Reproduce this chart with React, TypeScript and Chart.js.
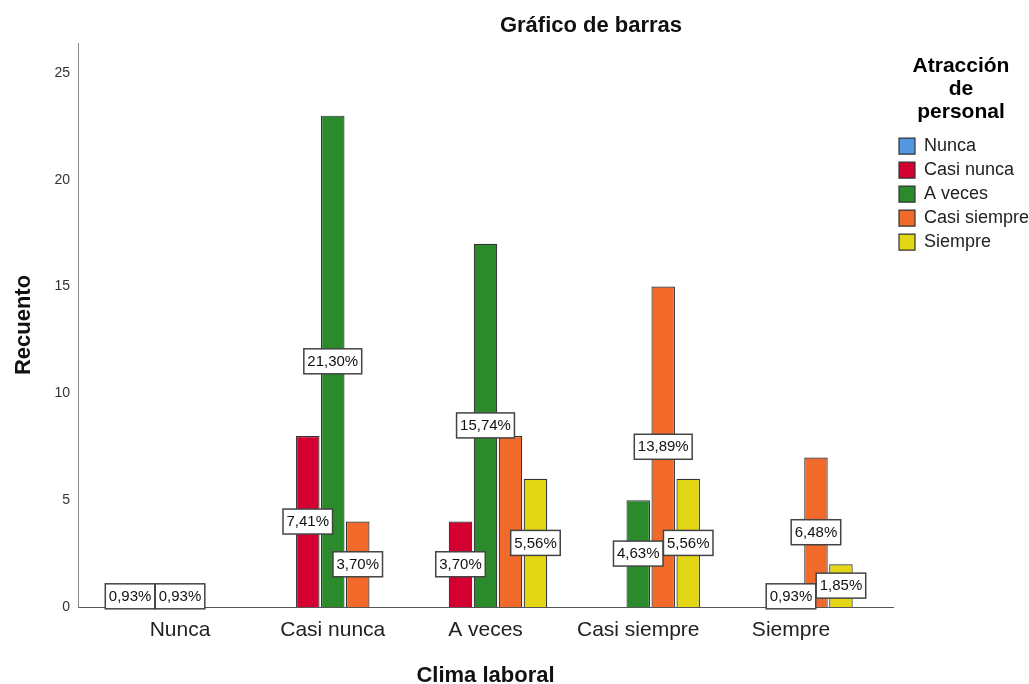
import React, { useEffect, useRef } from "react";
import { Chart, registerables } from "chart.js";

Chart.register(...registerables);

// ---- Data ----
const categories = ["Nunca", "Casi nunca", "A veces", "Casi siempre", "Siempre"];
const seriesNames = ["Nunca", "Casi nunca", "A veces", "Casi siempre", "Siempre"];
const countsNunca = [1, null, null, null, null];
const countsCasiNunca = [null, 8, 4, null, null];
const countsAVeces = [1, 23, 17, 5, 1];
const countsCasiSiempre = [null, 4, 8, 15, 7];
const countsSiempre = [null, null, 6, 6, 2];
const seriesCounts = [countsNunca, countsCasiNunca, countsAVeces, countsCasiSiempre, countsSiempre];
const seriesColors = ["#5497E3", "#D50032", "#2B8A2B", "#F26A2A", "#E3D615"];
const yTickValues = [0, 5, 10, 15, 20, 25];
// percentage labels not shown in the reference: [seriesIndex, categoryIndex]
const hiddenLabels = [[3, 2]];

const chartTitle = "Gráfico de barras";
const xTitle = "Clima laboral";
const yTitle = "Recuento";
const legendTitle = ["Atracción", "de", "personal"];

const FONT = "'Liberation Sans', Arial, sans-serif";

const totalCount = seriesCounts.reduce(
  (acc, arr) => acc + arr.reduce((a, v) => a + (v ?? 0), 0),
  0
);

function pctText(v: number): string {
  return ((v / totalCount) * 100).toFixed(2).replace(".", ",") + "%";
}

const labelPlugin = {
  id: "pctLabels",
  afterDatasetsDraw(chart: any) {
    const ctx = chart.ctx;
    ctx.save();
    ctx.font = `15px ${FONT}`;
    ctx.textAlign = "center";
    ctx.textBaseline = "middle";
    chart.data.datasets.forEach((ds: any, si: number) => {
      const meta = chart.getDatasetMeta(si);
      meta.data.forEach((el: any, ci: number) => {
        const raw = ds.data[ci];
        if (!raw || raw.y == null) return;
        if (hiddenLabels.some(([s, c]) => s === si && c === ci)) return;
        const text = pctText(raw.y);
        const cx = el.x;
        const cy = (el.y + el.base) / 2;
        const w = ctx.measureText(text).width + 7;
        const h = 25;
        ctx.fillStyle = "#ffffff";
        ctx.fillRect(cx - w / 2, cy - h / 2, w, h);
        ctx.strokeStyle = "#444444";
        ctx.lineWidth = 1.5;
        ctx.strokeRect(cx - w / 2, cy - h / 2, w, h);
        ctx.fillStyle = "#111111";
        ctx.fillText(text, cx, cy + 0.5);
      });
    });
    ctx.restore();
  },
};

const titlePlugin = {
  id: "topTitle",
  afterDraw(chart: any) {
    const ctx = chart.ctx;
    ctx.save();
    ctx.font = `bold 22px ${FONT}`;
    ctx.fillStyle = "#111111";
    ctx.textAlign = "center";
    ctx.textBaseline = "middle";
    ctx.fillText(chartTitle, 591, 26);
    ctx.restore();
  },
};

export default function App() {
  const canvasRef = useRef<HTMLCanvasElement | null>(null);

  useEffect(() => {
    document.body.style.margin = "0";
    document.body.style.overflow = "hidden";
    const canvas = canvasRef.current;
    if (!canvas) return;

    const datasets = seriesNames.map((name, si) => ({
      label: name,
      data: seriesCounts[si].map((v, ci) => ({ x: ci, y: v })),
      backgroundColor: seriesColors[si],
      borderColor: "#333333",
      borderWidth: 1.2,
      categoryPercentage: 0.818,
      barPercentage: 0.94,
    }));

    const chart = new Chart(canvas, {
      type: "bar",
      data: { datasets } as any,
      plugins: [labelPlugin, titlePlugin],
      options: {
        animation: false,
        responsive: false,
        layout: { padding: { top: 43, left: 0, right: 0, bottom: 0 } },
        plugins: {
          title: { display: false },
          tooltip: { enabled: false },
          legend: {
            display: true,
            position: "right",
            align: "start",
            maxWidth: 136,
            title: {
              display: true,
              text: legendTitle,
              color: "#000000",
              font: { family: FONT, size: 21, weight: "bold", lineHeight: 1.1 },
              padding: { top: 12.5, bottom: 52.5 },
            },
            labels: {
              boxWidth: 16,
              boxHeight: 16,
              padding: 6,
              color: "#222222",
              font: { family: FONT, size: 18 },
            },
          },
        },
        scales: {
          x: {
            type: "linear",
            min: -0.668,
            max: 4.668,
            offset: false,
            grid: { display: false, drawTicks: false },
            border: { display: true, color: "#555555", width: 1 },
            afterBuildTicks: (scale: any) => {
              scale.ticks = categories.map((_, i) => ({ value: i }));
            },
            afterFit: (scale: any) => {
              scale.height = 77;
            },
            ticks: {
              autoSkip: false,
              maxRotation: 0,
              padding: 11,
              color: "#222222",
              font: { family: FONT, size: 21 },
              callback: (value: any) => categories[value as number] ?? "",
            },
            title: {
              display: true,
              text: xTitle,
              color: "#111111",
              font: { family: FONT, size: 22, weight: "bold", lineHeight: 0.7 },
              padding: { top: 0, bottom: 0 },
            },
          },
          y: {
            min: 0,
            max: 26.4,
            grid: { display: false, drawTicks: false },
            border: { display: true, color: "#888888", width: 1 },
            afterBuildTicks: (scale: any) => {
              scale.ticks = yTickValues.map((v) => ({ value: v }));
            },
            afterFit: (scale: any) => {
              scale.width = 78;
            },
            ticks: {
              padding: 8,
              color: "#333333",
              font: { family: FONT, size: 14 },
            },
            title: {
              display: true,
              text: yTitle,
              color: "#111111",
              font: { family: FONT, size: 22, weight: "bold", lineHeight: 1.2 },
              padding: { top: 11, bottom: 0 },
            },
          },
        },
      } as any,
    });

    return () => {
      chart.destroy();
    };
  }, []);

  return (
    <div style={{ width: 1029, height: 684, background: "#ffffff" }}>
      <canvas ref={canvasRef} width={1029} height={684} style={{ display: "block" }} />
    </div>
  );
}
